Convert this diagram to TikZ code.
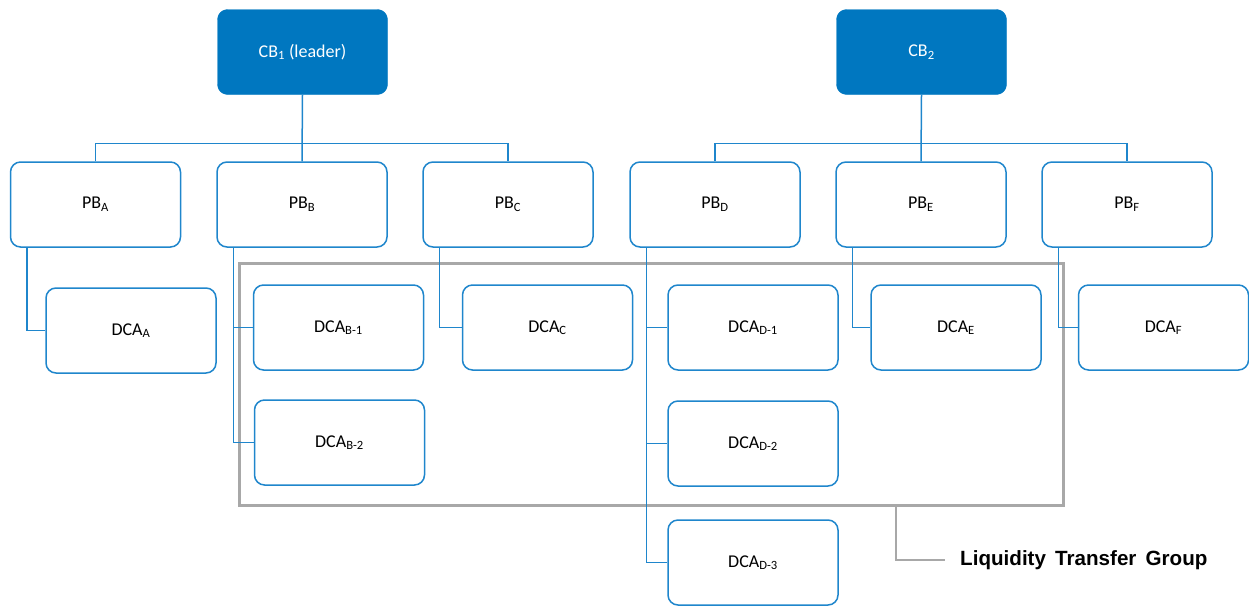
\documentclass[tikz,border=0pt]{standalone}
\usepackage{fontspec}
\setmainfont{Carlito}
\newfontfamily\arialbf{Liberation Sans}[Scale=1]
\usetikzlibrary{calc}
\definecolor{cbblue}{HTML}{0077C0}
\definecolor{lineblue}{HTML}{1F86CC}
\definecolor{grp}{HTML}{A8A8A8}
\newcommand\mysub[1]{\textsubscript{#1}}
\tikzset{
  base/.style={rounded corners=10pt, minimum width=170pt, minimum height=85pt, inner sep=0pt, font=\fontsize{18}{22}\selectfont},
  cbbox/.style={base, fill=cbblue, draw=cbblue, text=white},
  wbox/.style={base, draw=lineblue, line width=1.5pt, fill=white, text=black},
  conn/.style={draw=lineblue, line width=1.5pt},
  grpbox/.style={draw=grp, line width=3pt},
  grpline/.style={draw=grp, line width=1.4pt}
}
\begin{document}
\begin{tikzpicture}[x=1pt,y=-1pt]
\useasboundingbox (0,0) rectangle (1249,605);
% group rectangle
\node[grpbox, minimum width=824pt, minimum height=242pt, inner sep=0pt] (grp) at (651,384) {};
% central banks
\node[cbbox] (cb1) at (302.5,52) {CB\mysub{1} (leader)};
\node[cbbox] (cb2) at (921.5,52) {CB\mysub{2}};
% payment banks
\node[wbox] (pba) at (95.5,204.5) {PB\mysub{A}};
\node[wbox] (pbb) at (302,204.5) {PB\mysub{B}};
\node[wbox] (pbc) at (508,204.5) {PB\mysub{C}};
\node[wbox] (pbd) at (715,204.5) {PB\mysub{D}};
\node[wbox] (pbe) at (921,204.5) {PB\mysub{E}};
\node[wbox] (pbf) at (1127,204.5) {PB\mysub{F}};
% DCAs
\node[wbox] (dcaa) at (131,330.5) {DCA\mysub{A}};
\node[wbox] (dcab1) at (338.5,327.5) {DCA\mysub{B-1}};
\node[wbox] (dcab2) at (339.5,442.5) {DCA\mysub{B-2}};
\node[wbox] (dcac) at (547.5,327.5) {DCA\mysub{C}};
\node[wbox] (dcad1) at (753,327.5) {DCA\mysub{D-1}};
\node[wbox] (dcad2) at (753,443.5) {DCA\mysub{D-2}};
\node[wbox] (dcad3) at (753,562.5) {DCA\mysub{D-3}};
\node[wbox] (dcae) at (956,327.5) {DCA\mysub{E}};
\node[wbox] (dcaf) at (1163.5,327.5) {DCA\mysub{F}};
% CB to PB buses
\draw[conn] (cb1.south) -- (pbb.north);
\draw[conn] (pba.north) -- ++(0,-18) -| (pbc.north);
\draw[conn] (cb2.south) -- (pbe.north);
\draw[conn] (pbd.north) -- ++(0,-18) -| (pbf.north);
% PB to DCA
\draw[conn] ([xshift=17pt]pba.south west) |- (dcaa.west);
\draw[conn] ([xshift=17pt]pbb.south west) |- (dcab1.west);
\draw[conn] ([xshift=17pt]pbb.south west) |- (dcab2.west);
\draw[conn] ([xshift=17pt]pbc.south west) |- (dcac.west);
\draw[conn] ([xshift=17pt]pbd.south west) |- (dcad1.west);
\draw[conn] ([xshift=17pt]pbd.south west) |- (dcad2.west);
\draw[conn] ([xshift=17pt]pbd.south west) |- (dcad3.west);
\draw[conn] ([xshift=17pt]pbe.south west) |- (dcae.west);
\draw[conn] ([xshift=17pt]pbf.south west) |- (dcaf.west);
% label
\node[anchor=west, inner sep=0pt, font=\arialbf\bfseries\fontsize{20.6}{24}\selectfont] (lbl) at (960,560) {Liquidity\, Transfer\, Group};
\coordinate (lk) at (grp.south -| 896,0);
\draw[grpline] (lk) |- ([xshift=-15pt]lbl.west);
\end{tikzpicture}
\end{document}
